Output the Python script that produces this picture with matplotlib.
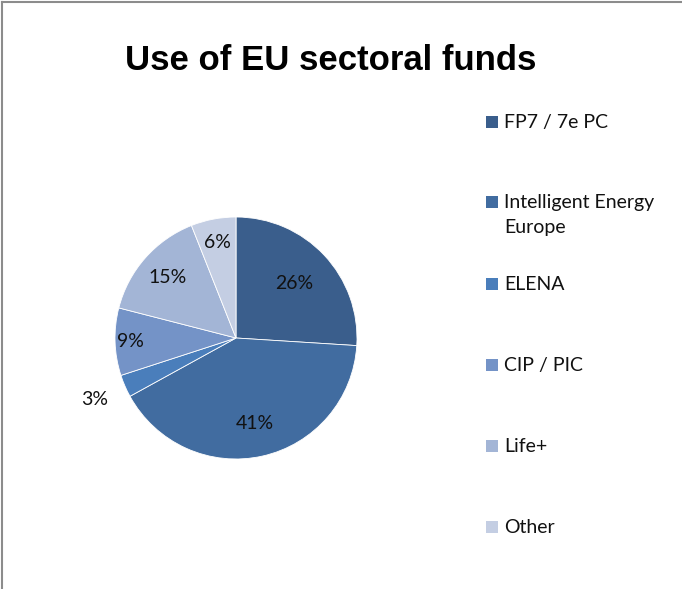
import matplotlib
matplotlib.use("Agg")
import matplotlib.pyplot as plt
from matplotlib.patches import Rectangle
from matplotlib.lines import Line2D
import numpy as np

# data
labels = ["FP7 / 7e PC", "Intelligent Energy\nEurope", "ELENA", "CIP / PIC", "Life+", "Other"]
shares = [26, 41, 3, 9, 15, 6]
colors = ["#3A5E8C", "#416CA0", "#4A7EBB", "#7493C7", "#A3B5D6", "#C4CEE3"]
# label radius per slice (Excel "best fit" placement)
label_r = [0.66, 0.72, 1.27, 0.87, 0.75, 0.80]

W, H = 682, 589
fig = plt.figure(figsize=(W / 100, H / 100), dpi=100)
LBL = ["Lato", "DejaVu Sans"]

# left/top chart-area border
fig.add_artist(Line2D([2 / W, 2 / W], [0, 1 - 2 / H], color="#8c8c8c", lw=1.5))
fig.add_artist(Line2D([2 / W, 1], [1 - 2 / H, 1 - 2 / H], color="#8c8c8c", lw=1.5))

fig.text(331 / W, 1 - 61 / H, "Use of EU sectoral funds", ha="center", va="center",
         fontsize=25, fontweight="bold", family=["Liberation Sans", "DejaVu Sans"])

cx, cy, r = 236, 338, 121
ax = fig.add_axes([(cx - r) / W, 1 - (cy + r) / H, 2 * r / W, 2 * r / H])
wedges, _ = ax.pie(shares, colors=colors, startangle=90, counterclock=False,
                   wedgeprops=dict(edgecolor="white", linewidth=0.6))
ax.set_xlim(-1, 1); ax.set_ylim(-1, 1); ax.set_aspect("equal")
for w, v, d in zip(wedges, shares, label_r):
    a = np.deg2rad((w.theta1 + w.theta2) / 2)
    ax.text(d * np.cos(a), d * np.sin(a), f"{v}%", ha="center", va="center",
            fontsize=14, color="#111111", family=LBL)

# legend, one entry per slice
ys = [122, 202, 284, 365, 446, 527]
for lab, col, y in zip(labels, colors, ys):
    fig.add_artist(Rectangle((486 / W, 1 - (y + 6) / H), 12 / W, 12 / H,
                             facecolor=col, edgecolor="none", transform=fig.transFigure))
    fig.text(504 / W, 1 - (y - 8) / H, lab, ha="left", va="top", fontsize=14,
             color="#111111", family=LBL, linespacing=1.6)

fig.savefig("out.png", dpi=100)
